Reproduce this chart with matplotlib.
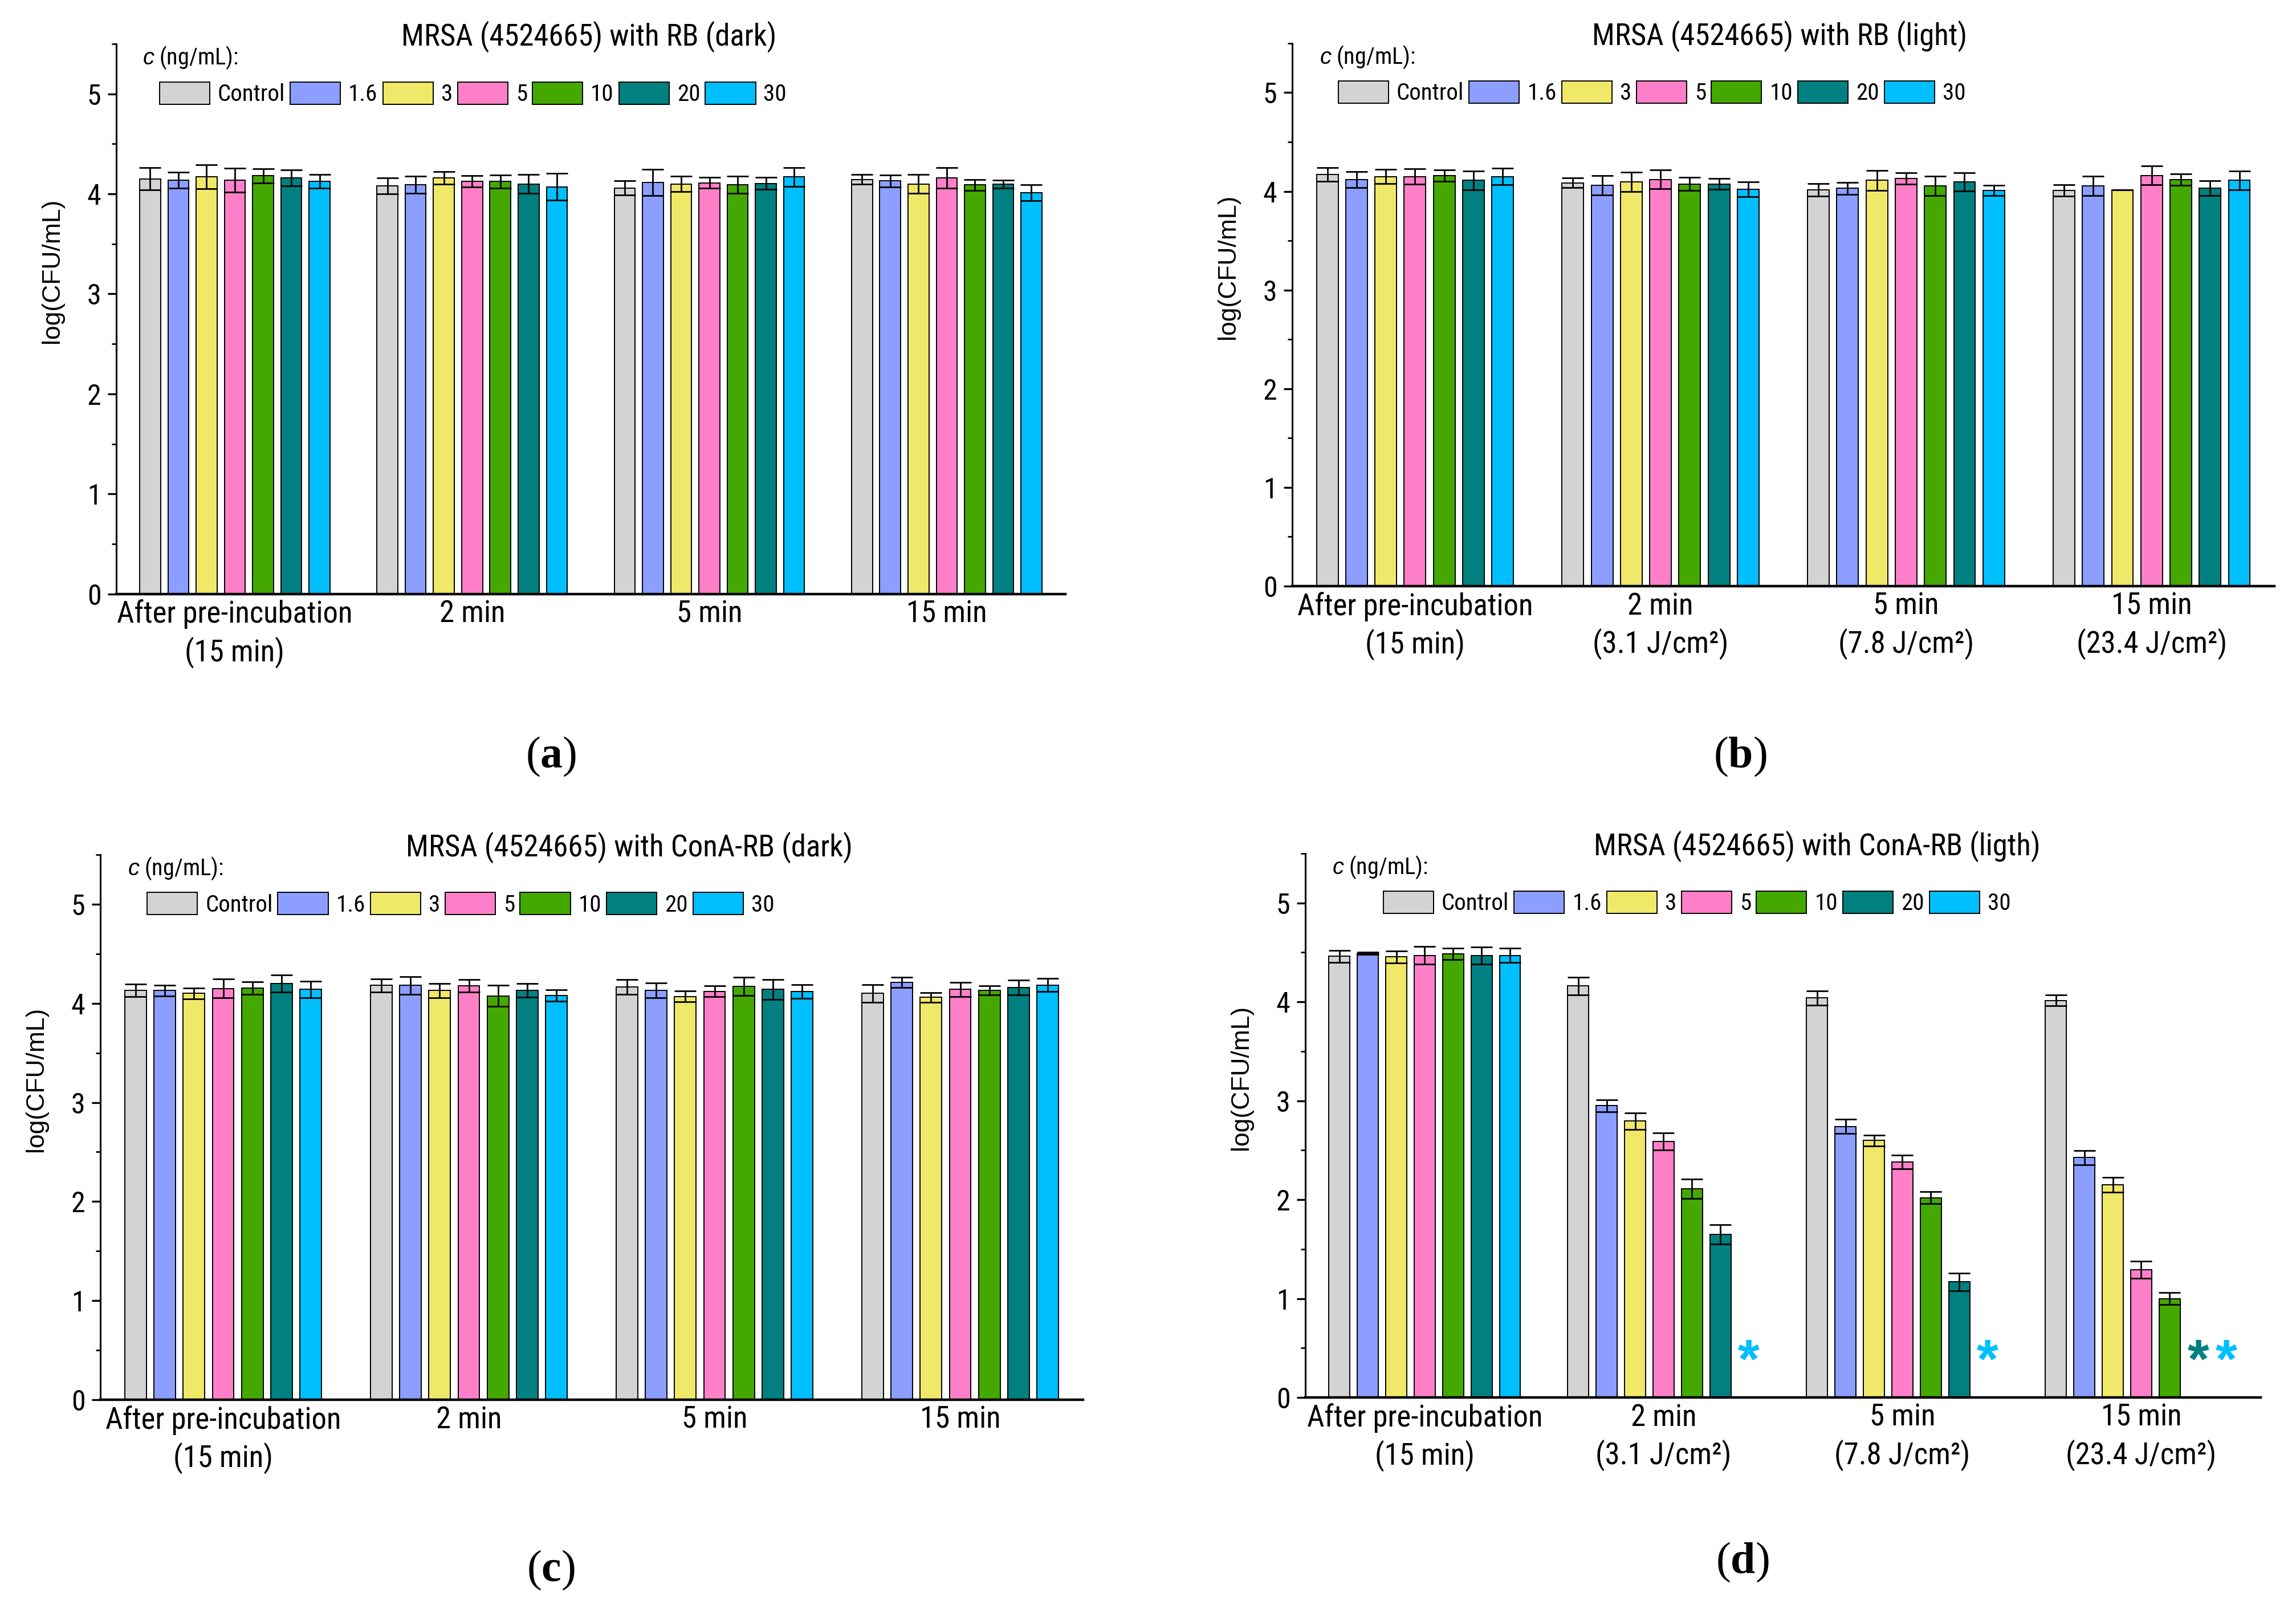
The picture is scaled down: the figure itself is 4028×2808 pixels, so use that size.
import matplotlib
matplotlib.use("Agg")
import matplotlib.pyplot as plt
from matplotlib import font_manager
from matplotlib.font_manager import FontProperties
from matplotlib.ticker import MultipleLocator
import numpy as np
import os

# a condensed sans like the original, if any is installed
wanted = ["liberationsansnarrow-regular", "arialnarrow", "robotocondensed-regular",
          "opensans_condensed-regular", "opensanscondensed-regular",
          "notosans-condensed.", "dejavusanscondensed.ttf"]
narrow_file = None
files = [f.fname for f in font_manager.fontManager.ttflist]
for key in wanted:
    hits = [p for p in files if key in os.path.basename(p).lower()]
    if hits:
        narrow_file = hits[0]
        break


def fp(size):
    if narrow_file:
        return FontProperties(fname=narrow_file, size=size)
    return FontProperties(family="Liberation Sans", size=size)


plt.rcParams["font.family"] = ["Liberation Sans", "DejaVu Sans"]
plt.rcParams["mathtext.fontset"] = "custom"
plt.rcParams["mathtext.it"] = "Liberation Sans:italic"
plt.rcParams["mathtext.rm"] = "Liberation Sans"
plt.rcParams["mathtext.bf"] = "Liberation Serif:bold"

# concentrations (ng/mL) and bar colours
series = ["Control", "1.6", "3", "5", "10", "20", "30"]
colors = ["#d3d3d3", "#8c9eff", "#f0e868", "#ff80c8", "#45a800", "#008080", "#00bfff"]

labels_dark = ["After pre-incubation\n(15 min)", "2 min", "5 min", "15 min"]
labels_light = ["After pre-incubation\n(15 min)", "2 min\n(3.1 J/cm²)",
                "5 min\n(7.8 J/cm²)", "15 min\n(23.4 J/cm²)"]

# log(CFU/mL), one row per concentration, columns = time points
rb_dark = [
    [4.15, 4.08, 4.06, 4.145],
    [4.135, 4.09, 4.115, 4.13],
    [4.17, 4.16, 4.10, 4.10],
    [4.135, 4.125, 4.11, 4.16],
    [4.18, 4.125, 4.09, 4.09],
    [4.16, 4.10, 4.105, 4.095],
    [4.125, 4.07, 4.17, 4.01],
]
rb_dark_err = [
    [0.11, 0.08, 0.07, 0.05],
    [0.08, 0.085, 0.13, 0.06],
    [0.12, 0.06, 0.075, 0.095],
    [0.12, 0.055, 0.055, 0.10],
    [0.07, 0.065, 0.085, 0.055],
    [0.08, 0.095, 0.06, 0.04],
    [0.07, 0.135, 0.095, 0.08],
]

rb_light = [
    [4.17, 4.085, 4.015, 4.01],
    [4.12, 4.06, 4.03, 4.055],
    [4.15, 4.095, 4.11, 4.015],
    [4.15, 4.12, 4.13, 4.16],
    [4.16, 4.075, 4.055, 4.12],
    [4.11, 4.075, 4.095, 4.03],
    [4.15, 4.02, 4.01, 4.11],
]
rb_light_err = [
    [0.067, 0.05, 0.062, 0.057],
    [0.08, 0.10, 0.06, 0.096],
    [0.07, 0.10, 0.10, 0.0],
    [0.077, 0.096, 0.057, 0.096],
    [0.057, 0.065, 0.10, 0.057],
    [0.093, 0.053, 0.09, 0.074],
    [0.086, 0.077, 0.053, 0.096],
]

cona_dark = [
    [4.13, 4.18, 4.165, 4.10],
    [4.13, 4.18, 4.13, 4.21],
    [4.10, 4.13, 4.07, 4.06],
    [4.15, 4.175, 4.12, 4.14],
    [4.155, 4.075, 4.17, 4.13],
    [4.20, 4.13, 4.14, 4.16],
    [4.14, 4.08, 4.12, 4.185],
]
cona_dark_err = [
    [0.064, 0.067, 0.076, 0.09],
    [0.055, 0.088, 0.074, 0.05],
    [0.055, 0.072, 0.055, 0.048],
    [0.095, 0.062, 0.055, 0.07],
    [0.064, 0.105, 0.09, 0.048],
    [0.086, 0.067, 0.10, 0.076],
    [0.083, 0.057, 0.07, 0.067],
]

nan = np.nan
cona_light = [
    [4.46, 4.16, 4.04, 4.015],
    [4.49, 2.95, 2.74, 2.425],
    [4.455, 2.795, 2.60, 2.15],
    [4.47, 2.59, 2.38, 1.29],
    [4.485, 2.11, 2.02, 1.00],
    [4.47, 1.65, 1.17, nan],
    [4.47, nan, nan, nan],
]
cona_light_err = [
    [0.062, 0.09, 0.072, 0.057],
    [0.01, 0.062, 0.072, 0.074],
    [0.06, 0.084, 0.055, 0.074],
    [0.09, 0.086, 0.07, 0.086],
    [0.06, 0.096, 0.06, 0.06],
    [0.086, 0.10, 0.09, nan],
    [0.074, nan, nan, nan],
]
# (time point, concentration) with no surviving bacteria
cona_light_stars = [(1, 6), (2, 6), (3, 5), (3, 6)]

step = 0.119
width = 0.088

fig = plt.figure(figsize=(40.28, 28.08), dpi=100)


def panel(pos, title, title_x, vals, errs, xlabels, leg_x, letter, letter_xy, stars=()):
    ax = fig.add_axes(pos)
    x = np.arange(4)
    for i, name in enumerate(series):
        xi = x + (i - 3) * step
        ax.bar(xi, vals[i], width, color=colors[i], edgecolor="black",
               linewidth=1.4, label=name)
        ax.errorbar(xi, vals[i], yerr=errs[i], fmt="none", ecolor="black",
                    elinewidth=2, capsize=14, capthick=2)
    for g, s in stars:
        ax.text(g + (s - 3) * step, 0.2, "*", color=colors[s], fontsize=70,
                fontweight="bold", family="Liberation Sans", ha="center", va="baseline")

    ax.set_xlim(-0.5, 3.5)
    ax.set_ylim(0, 5.5)
    ax.set_xticks(x)
    ax.set_xticklabels(xlabels, linespacing=1.3)
    for t in ax.get_xticklabels():
        t.set_fontproperties(fp(38))
    ax.tick_params(axis="x", length=0, pad=7)
    ax.yaxis.set_major_locator(MultipleLocator(1))
    ax.yaxis.set_minor_locator(MultipleLocator(0.5))
    ax.tick_params(axis="y", which="major", direction="out", length=11, width=2.4, pad=8)
    ax.tick_params(axis="y", which="minor", direction="out", length=6, width=2)
    for t in ax.get_yticklabels():
        t.set_fontproperties(fp(36))
    for side in ["top", "right"]:
        ax.spines[side].set_visible(False)
    ax.spines["left"].set_linewidth(2.2)
    ax.spines["bottom"].set_linewidth(3.2)

    ax.set_ylabel("log(CFU/mL)", family="Liberation Sans", fontsize=32)
    w_px = pos[2] * 4028
    ax.yaxis.set_label_coords(-92 / w_px, 0.588)

    ax.text(title_x, 0.997, title, transform=ax.transAxes, fontproperties=fp(38),
            ha="center", va="baseline")

    ax.legend(ncol=7, loc="center left", bbox_to_anchor=(leg_x, 5.0),
              bbox_transform=ax.get_yaxis_transform(), frameon=False, prop=fp(29.5),
              handlelength=2.15, handleheight=1.1, handletextpad=0.34,
              columnspacing=0.22, borderpad=0, borderaxespad=0)
    ax.text(0.028, 5.36, "$c$ (ng/mL):", transform=ax.get_yaxis_transform(),
            fontproperties=fp(29), ha="left", va="center")

    fig.text(letter_xy[0], letter_xy[1], "($\\mathbf{" + letter + "}$)",
             family="Liberation Serif", fontsize=56, ha="center", va="center")
    return ax


panel([0.0506, 0.629, 0.4134, 0.3436], "MRSA (4524665) with RB (dark)", 0.498,
      rb_dark, rb_dark_err, labels_dark, 0.0456, "a", (0.240, 0.5274))
panel([0.5628, 0.6339, 0.4278, 0.3391], "MRSA (4524665) with RB (light)", 0.496,
      rb_light, rb_light_err, labels_light, 0.047, "b", (0.758, 0.5274))
panel([0.0437, 0.1257, 0.4280, 0.3405], "MRSA (4524665) with ConA-RB (dark)", 0.538,
      cona_dark, cona_dark_err, labels_dark, 0.0476, "c", (0.240, 0.0192))
panel([0.5685, 0.1271, 0.4161, 0.3398], "MRSA (4524665) with ConA-RB (ligth)", 0.536,
      cona_light, cona_light_err, labels_light, 0.0817, "d", (0.759, 0.0242),
      stars=cona_light_stars)

fig.savefig("out.png", dpi=100, facecolor="white")
